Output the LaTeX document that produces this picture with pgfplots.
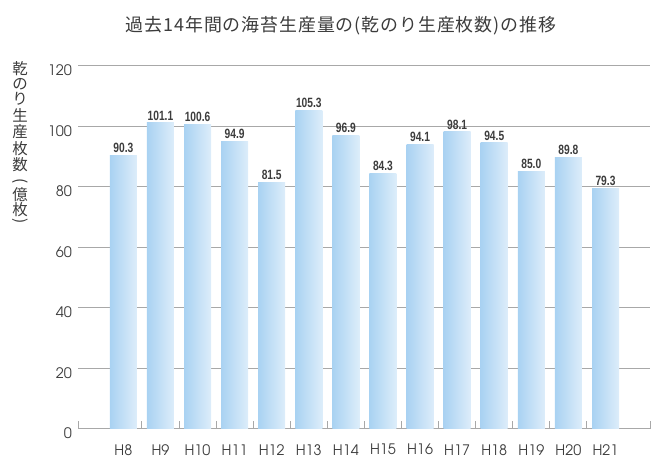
\documentclass[border=0pt]{standalone}
\usepackage{fontspec}
\usepackage{pgfplots}
\usepackage{pgfplotstable}
\pgfplotsset{compat=1.18}
\setmainfont{Noto Sans CJK JP}
\newfontfamily\cjk{Noto Sans CJK JP}
\newfontfamily\cjktitle{Noto Sans CJK JP}[LetterSpace=5]
\newfontfamily\adv{TeX Gyre Adventor}
\newfontfamily\cond{Liberation Sans}[FakeStretch=0.76]
\definecolor{txt}{HTML}{3C3C3C}
\definecolor{gridc}{HTML}{A8A8A8}
\definecolor{barL}{HTML}{A9D2F2}
\definecolor{barR}{HTML}{DDEDFA}

% production of dried nori, 100 million sheets
\pgfplotstableread{
x  y
0  90.3
1  101.1
2  100.6
3  94.9
4  81.5
5  105.3
6  96.9
7  84.3
8  94.1
9  98.1
10 94.5
11 85.0
12 89.8
13 79.3
}\nori

\begin{document}
\begin{tikzpicture}
\useasboundingbox (-78.5bp,-41.3bp) rectangle (591.5bp,428.7bp);
\begin{axis}[
  at={(0,0)}, anchor=south west,
  scale only axis, width=571.5bp, height=363bp,
  xmin=-1.21, xmax=14.2, ymin=0, ymax=120,
  axis x line*=bottom, axis y line*=left,
  x axis line style={gridc, line width=1.2bp, -},
  y axis line style={draw=none},
  ytick={0,20,40,60,80,100,120},
  ymajorgrids, grid style={gridc, line width=0.8bp},
  major tick length=0pt,
  xtick={0,...,13},
  xticklabels={H8,H9,H10,H11,H12,H13,H14,H15,H16,H17,H18,H19,H20,H21},
  extra x ticks={-1.21,0.5,1.5,2.5,3.5,4.5,5.5,6.5,7.5,8.5,9.5,10.5,11.5,12.5,14.2},
  extra x tick labels={},
  extra x tick style={major tick length=8bp, tick align=inside,
    tick style={gridc, line width=1bp}, grid=none},
  /pgf/number format/assume math mode=true,
  tick label style={font=\adv\fontsize{14.5}{15}\selectfont, text=txt},
  yticklabel style={anchor=east, xshift=-3bp, yshift=-4.5bp},
  xticklabel style={anchor=center, yshift=-21bp},
  clip=false,
]
\pgfplotsinvokeforeach{0,...,13}{
\addplot[ybar, bar width=27bp, bar shift=0pt, draw=none,
  left color=barL, right color=barR,
  restrict x to domain=#1:#1,
  nodes near coords={\pgfmathprintnumber[fixed,fixed zerofill,precision=1,assume math mode=true]{\pgfplotspointmeta}},
  nodes near coords style={font=\cond\bfseries\fontsize{13.5}{14}\selectfont, text=txt, inner sep=2.5bp}]
  table[x=x, y=y] {\nori};
}
\end{axis}
\node[font=\cjktitle\fontsize{18}{20}\selectfont, text=txt] at (262.5bp,403.2bp)
  {過去14年間の海苔生産量の(乾のり生産枚数)の推移};
% vertical axis title, one character per line
\begin{scope}[every node/.style={font=\cjk\fontsize{15.5}{16}\selectfont, text=txt, inner sep=0pt}]
\foreach \c/\yy in {乾/69, の/84, り/98.5, 生/115, 産/131.5, 枚/148.5, 数/165, 億/194.5, 枚/209.5}
  \node at (-58.5bp, 428.7bp-\yy bp) {\c};
\node at (-58.5bp, 428.7bp-181bp) {\rotatebox{-90}{(}};
\node at (-58.5bp, 428.7bp-221bp) {\rotatebox{-90}{)}};
\end{scope}
\end{tikzpicture}
\end{document}
